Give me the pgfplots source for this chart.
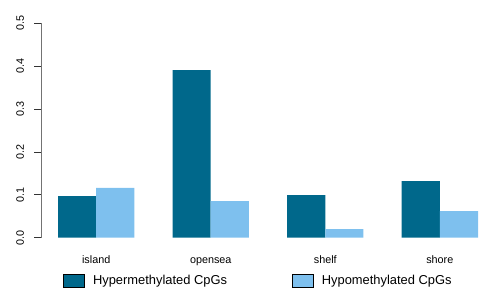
\documentclass[border=0pt]{standalone}
\usepackage{pgfplots}
\pgfplotsset{compat=1.18}
\usepackage{fontspec}
\setmainfont{Liberation Sans}
\definecolor{hyper}{RGB}{0,104,139}
\definecolor{hypo}{RGB}{126,192,238}
\begin{document}
\begin{tikzpicture}
\useasboundingbox (0,0) rectangle (480bp,293bp);
\begin{axis}[
  at={(41.2bp,46.7bp)}, anchor=south west,
  scale only axis, width=438.8bp, height=231.9bp,
  xmin=0.56, xmax=12.052, ymin=-0.02, ymax=0.52,
  axis line style={draw=none},
  xtick={2,5,8,11}, xticklabels={island,opensea,shelf,shore},
  x tick style={draw=none},
  ytick={0,0.1,0.2,0.3,0.4,0.5}, yticklabels={0.0,0.1,0.2,0.3,0.4,0.5},
  ytick pos=left, xtick pos=bottom,
  y tick style={black!80, line width=0.6bp},
  tick align=outside, major tick length=7bp,
  x tick label style={font=\fontsize{10.8bp}{13bp}\selectfont, anchor=base, yshift=-9.7bp},
  y tick label style={font=\fontsize{10.8bp}{13bp}\selectfont, anchor=center, xshift=-14bp, rotate=90},
  yticklabel shift=0pt,
  legend style={at={(0.0497,-0.1475)}, anchor=west, draw=none, fill=none, inner sep=0pt,
    legend columns=2, font=\fontsize{12.9bp}{15bp}\selectfont,
    nodes={inner sep=0pt}, cells={anchor=west},
    /tikz/every odd column/.append style={column sep=8bp},
    /tikz/every even column/.append style={column sep=65bp}},
  legend image code/.code={\draw[#1, draw=black, line width=0.8bp] (0bp,-6.5bp) rectangle (21bp,6.5bp);},
]
\addplot[ybar, bar width=38.18bp, bar shift=0pt, fill=hyper, draw=none] coordinates {(1.5,0.097) (4.5,0.390) (7.5,0.099) (10.5,0.132)};
\addlegendentry{Hypermethylated CpGs}
\addplot[ybar, bar width=38.18bp, bar shift=0pt, fill=hypo, draw=none] coordinates {(2.5,0.116) (5.5,0.085) (8.5,0.020) (11.5,0.062)};
\addlegendentry{Hypomethylated CpGs}
\draw[black!55, line width=0.8bp] (axis cs:0.56,0) -- (axis cs:0.56,0.5);
\end{axis}
\end{tikzpicture}
\end{document}
